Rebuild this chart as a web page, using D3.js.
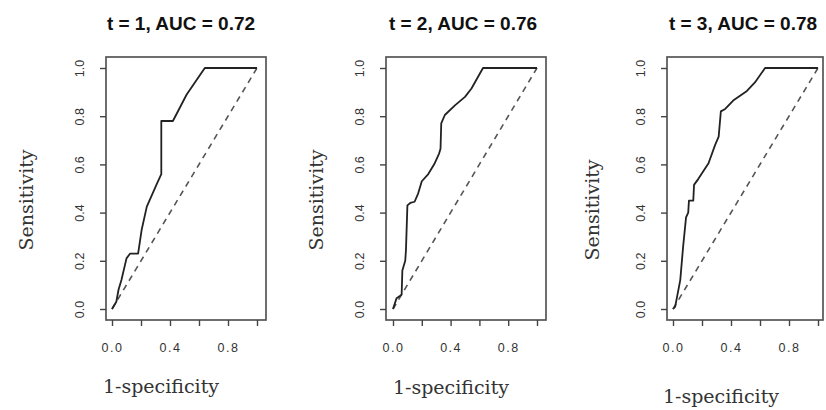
<!DOCTYPE html>
<html lang="en">
<head>
<meta charset="UTF-8">
<title>ROC curves</title>
<script src="https://cdn.jsdelivr.net/npm/d3@7"></script>
<style>
    body { margin: 0; background: #fff; }
    .title { font-family: "Liberation Sans", Arial, sans-serif; font-weight: bold; font-size: 19px; fill: #111; }
    .axlab { font-family: "DejaVu Serif", serif; font-size: 19px; fill: #333; }
    .tick text { font-family: "Liberation Sans", Arial, sans-serif; font-size: 12.5px; fill: #333; }
</style>
</head>
<body>
<svg width="826" height="410"></svg>
<script>
const titles = ["t = 1, AUC = 0.72", "t = 2, AUC = 0.76", "t = 3, AUC = 0.78"];
const ticks = [0, 0.2, 0.4, 0.6, 0.8, 1.0];
const xTickLabels = ["0.0", "", "0.4", "", "0.8", ""];
const yTickLabels = ["0.0", "0.2", "0.4", "0.6", "0.8", "1.0"];

const fpr1 = [0, 0.03, 0.045, 0.065, 0.10, 0.125, 0.18, 0.205, 0.24, 0.31, 0.34, 0.34, 0.42, 0.515, 0.64, 1.0];
const tpr1 = [0, 0.03, 0.08, 0.12, 0.21, 0.23, 0.23, 0.33, 0.425, 0.52, 0.56, 0.78, 0.78, 0.89, 1.0, 1.0];

const fpr2 = [0, 0.025, 0.05, 0.06, 0.065, 0.085, 0.09, 0.10, 0.12, 0.15, 0.175, 0.20, 0.245, 0.29, 0.32, 0.33, 0.335, 0.36, 0.43, 0.50, 0.545, 0.625, 1.0];
const tpr2 = [0, 0.045, 0.055, 0.06, 0.16, 0.20, 0.245, 0.43, 0.44, 0.445, 0.48, 0.53, 0.56, 0.605, 0.645, 0.665, 0.77, 0.805, 0.845, 0.88, 0.915, 1.0, 1.0];

const fpr3 = [0, 0.015, 0.05, 0.07, 0.09, 0.105, 0.11, 0.14, 0.145, 0.175, 0.245, 0.29, 0.315, 0.33, 0.36, 0.415, 0.51, 0.565, 0.635, 1.0];
const tpr3 = [0, 0.01, 0.12, 0.26, 0.38, 0.40, 0.45, 0.45, 0.515, 0.54, 0.605, 0.68, 0.715, 0.82, 0.83, 0.865, 0.905, 0.94, 1.0, 1.0];

const fprs = [fpr1, fpr2, fpr3];
const tprs = [tpr1, tpr2, tpr3];

// panel layout (pixel positions of the frame and of 0 / 1 on each axis)
const panels = [
    { box: [106, 266], x01: [112, 257], titleX: 181, xlabX: 161, xlabY: 393, ylabX: 27, ylabY: 200 },
    { box: [386, 546], x01: [393, 537], titleX: 463, xlabX: 451, xlabY: 394, ylabX: 317, ylabY: 200 },
    { box: [667, 823], x01: [673, 818], titleX: 743, xlabX: 721, xlabY: 403, ylabX: 593, ylabY: 210 }
];
const boxTop = 57, boxBottom = 320;

const svg = d3.select("svg");

panels.forEach((p, i) => {
    const x = d3.scaleLinear().domain([0, 1]).range(p.x01);
    const y = d3.scaleLinear().domain([0, 1]).range([309, 68]);
    const g = svg.append("g");

    // frame
    g.append("rect")
        .attr("x", p.box[0]).attr("y", boxTop)
        .attr("width", p.box[1] - p.box[0]).attr("height", boxBottom - boxTop)
        .attr("fill", "none").attr("stroke", "#555").attr("stroke-width", 1.7);

    // x axis
    const xAxis = g.append("g")
        .attr("transform", `translate(0,${boxBottom})`)
        .call(d3.axisBottom(x).tickValues(ticks).tickSize(6).tickPadding(17)
            .tickFormat((d, k) => xTickLabels[k]));
    xAxis.select(".domain").remove();
    xAxis.selectAll("line").attr("stroke", "#444").attr("stroke-width", 1.4);
    xAxis.selectAll("text").attr("letter-spacing", "1.5px");

    // y axis, labels rotated like R's las = 0
    const yAxis = g.append("g")
        .attr("transform", `translate(${p.box[0]},0)`)
        .call(d3.axisLeft(y).tickValues(ticks).tickSize(6)
            .tickFormat((d, k) => yTickLabels[k]));
    yAxis.select(".domain").remove();
    yAxis.selectAll("line").attr("stroke", "#444").attr("stroke-width", 1.4);
    yAxis.selectAll("text")
        .attr("x", 0).attr("dy", 0)
        .attr("text-anchor", "middle")
        .attr("transform", "translate(-26,0) rotate(-90)")
        .attr("y", 4);

    // chance line
    g.append("line")
        .attr("x1", x(0)).attr("y1", y(0)).attr("x2", x(1)).attr("y2", y(1))
        .attr("stroke", "#555").attr("stroke-width", 1.6)
        .attr("stroke-dasharray", "6,5");

    // ROC curve
    const pts = fprs[i].map((f, k) => [f, tprs[i][k]]);
    g.append("path")
        .datum(pts)
        .attr("fill", "none")
        .attr("stroke", "#222").attr("stroke-width", 1.8)
        .attr("stroke-linejoin", "round")
        .attr("d", d3.line().x(d => x(d[0])).y(d => y(d[1])));

    // titles and axis labels
    g.append("text").attr("class", "title")
        .attr("x", p.titleX).attr("y", 30)
        .attr("text-anchor", "middle").text(titles[i]);

    g.append("text").attr("class", "axlab")
        .attr("x", p.xlabX).attr("y", p.xlabY)
        .attr("text-anchor", "middle").text("1-specificity");

    g.append("text").attr("class", "axlab")
        .attr("transform", `translate(${p.ylabX + 6},${p.ylabY}) rotate(-90)`)
        .attr("text-anchor", "middle").text("Sensitivity");
});
</script>
</body>
</html>
